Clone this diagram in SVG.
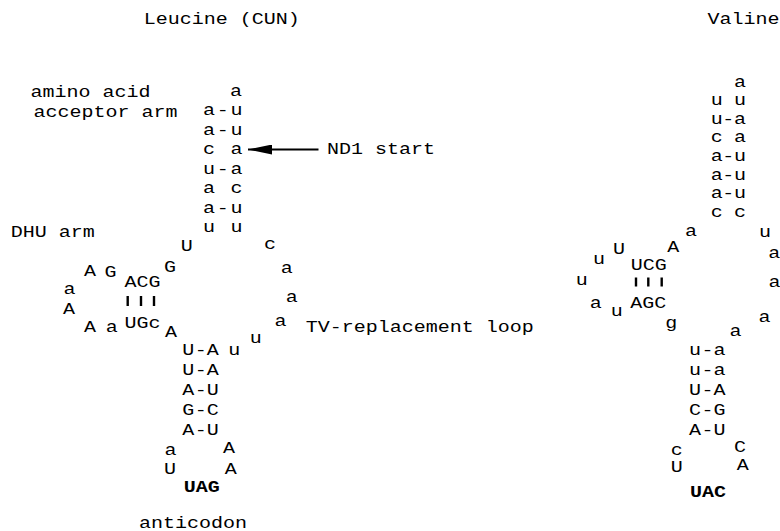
<svg xmlns="http://www.w3.org/2000/svg" width="780" height="531" viewBox="0 0 780 531">
<style>
text{font-family:"Liberation Mono","Courier New",monospace;font-size:16px;fill:#000;text-anchor:middle}
.s{text-anchor:start}
.b{font-weight:bold}
.bar{stroke:#000;stroke-width:2.4}
</style>
<defs>
<marker id="ah" viewBox="0 0 24 10" refX="24" refY="5" markerWidth="24" markerHeight="10" markerUnits="userSpaceOnUse" orient="auto"><path d="M0,0 L24,5 L0,10 z" fill="#000"/></marker>
</defs>
<rect width="780" height="531" fill="#fff"/>
<g transform="scale(1.25 1)">
<g id="titles">
<text class="s" x="115" y="24">Leucine (CUN)</text>
<text class="s" x="566" y="24">Valine</text>
</g>
<g id="labels">
<text class="s" x="24.4" y="97">amino acid</text>
<text class="s" x="26.8" y="117">acceptor arm</text>
<text class="s" x="8.6" y="236.7">DHU arm</text>
<text class="s" x="261.6" y="154.5">ND1 start</text>
<text class="s" x="244.6" y="331.7">TV-replacement loop</text>
<text class="s" x="111.2" y="528">anticodon</text>
</g>
<g id="leu-acceptor">
<text x="188.8" y="96">a</text>
<text x="167.2" y="115.5">a</text><text x="178.2" y="115.5">-</text><text x="189.2" y="115.5">u</text>
<text x="167.2" y="135">a</text><text x="178.2" y="135">-</text><text x="189.2" y="135">u</text>
<text x="167.2" y="154.5">c</text><text x="189.2" y="154.5">a</text>
<text x="167.2" y="174">u</text><text x="178.2" y="174">-</text><text x="189.2" y="174">a</text>
<text x="167.2" y="193.5">a</text><text x="189.2" y="193.5">c</text>
<text x="167.2" y="213">a</text><text x="178.2" y="213">-</text><text x="189.2" y="213">u</text>
<text x="167.2" y="232.5">u</text><text x="189.2" y="232.5">u</text>
</g>
<g id="leu-dhu">
<text x="149.4" y="250.7">U</text>
<text x="136" y="271.7">G</text>
<text x="72" y="276">A</text>
<text x="88.4" y="277.3">G</text>
<text x="114" y="286.7">ACG</text>
<text x="55.6" y="294">a</text>
<text x="55.2" y="314">A</text>
<text x="72" y="331.7">A</text>
<text x="89.4" y="331.7">a</text>
<text x="114" y="328.3">UGc</text>
<text x="136.8" y="336.7">A</text>
</g>
<g id="leu-tv">
<text x="216" y="249.5">c</text>
<text x="229.4" y="273.3">a</text>
<text x="233.4" y="301.7">a</text>
<text x="224.4" y="326.3">a</text>
<text x="204.6" y="343.3">u</text>
<text x="187.4" y="355">u</text>
</g>
<g id="leu-anticodon">
<text x="150.6" y="355">U</text><text x="160.6" y="355">-</text><text x="170.2" y="355">A</text>
<text x="150.6" y="375">U</text><text x="160.6" y="375">-</text><text x="170.2" y="375">A</text>
<text x="150.6" y="395">A</text><text x="160.6" y="395">-</text><text x="170.2" y="395">U</text>
<text x="150.6" y="415">G</text><text x="160.6" y="415">-</text><text x="170.2" y="415">C</text>
<text x="150.6" y="435">A</text><text x="160.6" y="435">-</text><text x="170.2" y="435">U</text>
<text x="136.4" y="455">a</text>
<text x="183.2" y="453.3">A</text>
<text x="136" y="474">U</text>
<text x="184.6" y="474">A</text>
<text class="b" x="161.4" y="491.7">UAG</text>
</g>
<g id="val-acceptor">
<text x="592" y="86.7">a</text>
<text x="573.4" y="105">u</text><text x="592" y="105">u</text>
<text x="573.4" y="123.7">u</text><text x="582.6" y="123.7">-</text><text x="592" y="123.7">a</text>
<text x="573.4" y="142.3">c</text><text x="592" y="142.3">a</text>
<text x="573.4" y="161">a</text><text x="582.6" y="161">-</text><text x="592" y="161">u</text>
<text x="573.4" y="179.7">a</text><text x="582.6" y="179.7">-</text><text x="592" y="179.7">u</text>
<text x="573.4" y="198.3">a</text><text x="582.6" y="198.3">-</text><text x="592" y="198.3">u</text>
<text x="573.4" y="217">c</text><text x="592" y="217">c</text>
</g>
<g id="val-dhu">
<text x="552.8" y="236.3">a</text>
<text x="538.6" y="251.7">A</text>
<text x="495.2" y="254.5">U</text>
<text x="479.2" y="264">u</text>
<text x="519" y="270">UCG</text>
<text x="465.4" y="285">u</text>
<text x="476.6" y="308.3">a</text>
<text x="518.6" y="308.3">AGC</text>
<text x="493.4" y="316">u</text>
<text x="537" y="328.3">g</text>
</g>
<g id="val-tv">
<text x="612" y="236.7">u</text>
<text x="619.4" y="258.3">a</text>
<text x="619.6" y="287">a</text>
<text x="611.6" y="322">a</text>
<text x="588.4" y="336">a</text>
</g>
<g id="val-anticodon">
<text x="556" y="355">u</text><text x="566.1" y="355">-</text><text x="575.6" y="355">a</text>
<text x="556" y="375">u</text><text x="566.1" y="375">-</text><text x="575.6" y="375">a</text>
<text x="556" y="395">U</text><text x="566.1" y="395">-</text><text x="575.6" y="395">A</text>
<text x="556" y="415">C</text><text x="566.1" y="415">-</text><text x="575.6" y="415">G</text>
<text x="556" y="435">A</text><text x="566.1" y="435">-</text><text x="575.6" y="435">U</text>
<text x="541.4" y="455">c</text>
<text x="592" y="451.7">C</text>
<text x="541.4" y="471.7">U</text>
<text x="594.2" y="470">A</text>
<text class="b" x="566.4" y="496.7">UAC</text>
</g>
</g>
<g id="connectors">
<line class="bar" x1="127.7" y1="296" x2="127.7" y2="306"/>
<line class="bar" x1="141" y1="296" x2="141" y2="306"/>
<line class="bar" x1="154" y1="296" x2="154" y2="306"/>
<line class="bar" x1="636" y1="277.5" x2="636" y2="286.5"/>
<line class="bar" x1="648.3" y1="277.5" x2="648.3" y2="286.5"/>
<line class="bar" x1="661.7" y1="277.5" x2="661.7" y2="286.5"/>
<line x1="318.5" y1="149.5" x2="248" y2="149.5" stroke="#000" stroke-width="2" marker-end="url(#ah)"/>
</g>
</svg>
